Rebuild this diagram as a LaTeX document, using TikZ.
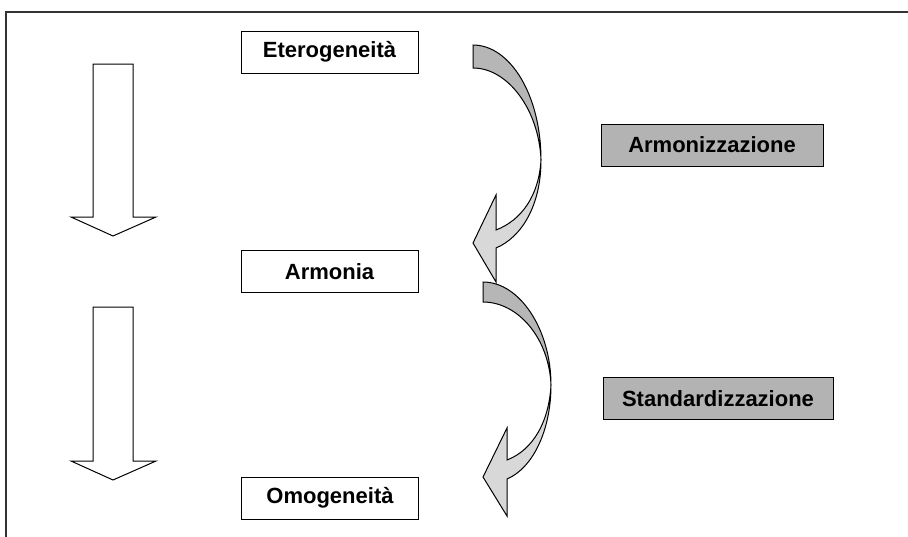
\documentclass[tikz,border=0pt]{standalone}
\usepackage{fontspec}
\setmainfont{Liberation Sans}
\begin{document}
\begin{tikzpicture}[x=1pt,y=-1pt,
  label/.style={draw=black, line width=1pt, inner sep=0pt,
    font=\fontsize{22}{26}\selectfont\bfseries},
  whitebox/.style={label, fill=white, minimum width=177pt, minimum height=42pt},
  graybox/.style={label, fill=boxgray, minimum height=42pt},
  blockarrow/.style={draw=black, line width=1pt, fill=white, line join=miter},
  backface/.style={draw=black, line width=1pt, fill=bandgray, line join=miter},
  frontface/.style={draw=black, line width=1pt, fill=headgray, line join=miter}]
\definecolor{boxgray}{HTML}{B3B3B3}
\definecolor{bandgray}{HTML}{B6B6B6}
\definecolor{headgray}{HTML}{D8D8D8}
\useasboundingbox (0,0) rectangle (908,536);
\begin{scope}
\clip (0,0) rectangle (908,536);
% outer frame, open towards the right and bottom
\draw[line width=1.6pt, black!80] (6,545) -- (6,12) -- (915,12);
\end{scope}

% stage boxes
\node[whitebox] (eter) at (329.5,52) {Eterogeneit\`a};
\node[whitebox] (armonia) at (329.5,271.5) {Armonia};
\node[whitebox] (omog) at (330,498) {Omogeneit\`a};

% process boxes
\node[graybox, minimum width=222pt] (armz) at (712,145) {Armonizzazione};
\node[graybox, minimum width=230pt] (stdz) at (718,398.5) {Standardizzazione};

% left block arrows
\draw[blockarrow] (93,64) -- (133,64) -- (133,217) -- (156,217) -- (113,236)
  -- (71,217) -- (93,217) -- cycle;
\draw[blockarrow] (93,307) -- (133,307) -- (133,461) -- (156,461) -- (113,480)
  -- (71,461) -- (93,461) -- cycle;

% first curved arrow
\draw[backface] (473,45) .. controls (510,45) and (541,95) .. (541,160)
  .. controls (539,110) and (508,68) .. (473,68) -- cycle;
\draw[frontface] (541,160) .. controls (541,205) and (522,237) .. (496,248)
  -- (496,282) -- (473,243) -- (496,195) -- (496,230)
  .. controls (522,220) and (539,195) .. (541,160) -- cycle;

% second curved arrow
\draw[backface] (483,282) .. controls (520,282) and (551,330) .. (551,385)
  .. controls (549,338) and (518,302) .. (483,302) -- cycle;
\draw[frontface] (551,385) .. controls (551,430) and (533,468) .. (507,479)
  -- (507,516) -- (483,477) -- (507,428) -- (507,460)
  .. controls (533,450) and (549,422) .. (551,385) -- cycle;
\end{tikzpicture}
\end{document}
